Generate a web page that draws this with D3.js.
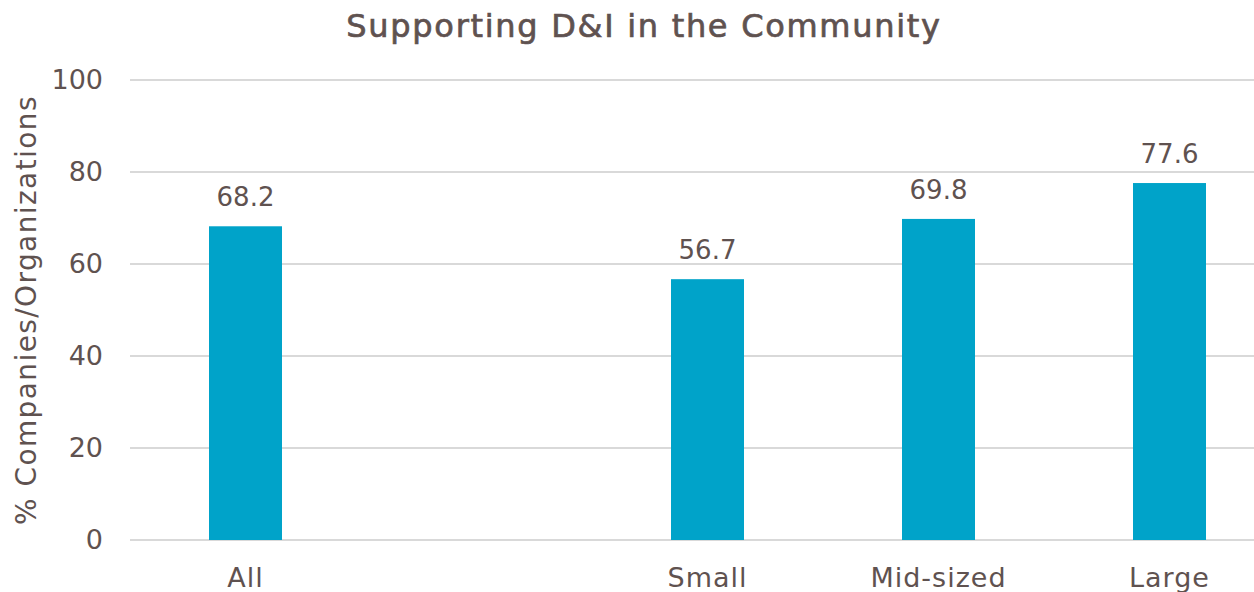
<!DOCTYPE html>
<html>
<head>
<meta charset="utf-8">
<script src="https://cdn.jsdelivr.net/npm/d3@7"></script>
<style>
  body { margin: 0; background: #fff; }
  svg { display: block; font-family: "DejaVu Sans", sans-serif; }
</style>
</head>
<body>
<div id="chart"></div>
<script>
// chart data
var categories = ["All", "", "Small", "Mid-sized", "Large"];
var values = [68.2, null, 56.7, 69.8, 77.6];
var yTicks = [0, 20, 40, 60, 80, 100];
var chartTitle = "Supporting D&I in the Community";
var yTitle = "% Companies/Organizations";

function drawBarChart() {
    var W = 1254, H = 592;
    var textColour = "#5f5250";
    var barColour = "#00a3c9";

    var svg = d3.select("#chart")
      .append("svg")
        .attr("width", W)
        .attr("height", H);

    // x band scale, the last slot runs past the right edge like the original
    var x = d3.scaleBand()
      .domain(d3.range(categories.length))
      .range([130, 1285])
      .paddingInner(0.684)
      .paddingOuter(0.342);

    var y = d3.scaleLinear()
      .domain([0, 100])
      .range([540, 80]);

    // gridlines
    svg.append("g")
      .selectAll("line")
      .data(yTicks)
      .enter()
      .append("line")
        .attr("x1", 130)
        .attr("x2", W)
        .attr("y1", function (d) { return y(d); })
        .attr("y2", function (d) { return y(d); })
        .attr("stroke", "#d9d9d9")
        .attr("stroke-width", 2);

    // y axis labels
    var yAxis = svg.append("g")
      .attr("transform", "translate(110,0)")
      .call(d3.axisLeft(y).tickValues(yTicks).tickSize(0).tickPadding(7));
    yAxis.select(".domain").remove();
    yAxis.selectAll("text")
      .attr("fill", textColour)
      .style("font-size", "27px")
      .style("font-family", "'DejaVu Sans', sans-serif");

    // x axis labels
    var xAxis = svg.append("g")
      .attr("transform", "translate(0,540)")
      .call(d3.axisBottom(x).tickSize(0).tickPadding(28)
        .tickFormat(function (i) { return categories[i]; }));
    xAxis.select(".domain").remove();
    xAxis.selectAll("text")
      .attr("fill", textColour)
      .style("font-size", "27px")
      .style("letter-spacing", "1px")
      .style("font-family", "'DejaVu Sans', sans-serif");

    var data = [];
    for (var i = 0; i < categories.length; i++) {
        if (values[i] !== null) data.push({i: i, v: values[i]});
    }

    // bars
    svg.append("g")
      .selectAll("rect")
      .data(data)
      .enter()
      .append("rect")
        .attr("x", function (d) { return x(d.i); })
        .attr("y", function (d) { return y(d.v); })
        .attr("width", x.bandwidth())
        .attr("height", function (d) { return y(0) - y(d.v); })
        .attr("fill", barColour);

    // value labels
    svg.append("g")
      .selectAll("text")
      .data(data)
      .enter()
      .append("text")
        .attr("x", function (d) { return x(d.i) + x.bandwidth() / 2; })
        .attr("y", function (d) { return y(d.v) - 20; })
        .attr("text-anchor", "middle")
        .attr("fill", textColour)
        .style("font-size", "26px")
        .text(function (d) { return d.v.toFixed(1); });

    // title
    svg.append("text")
      .attr("x", 644)
      .attr("y", 37)
      .attr("text-anchor", "middle")
      .attr("fill", textColour)
      .attr("stroke", textColour)
      .attr("stroke-width", 0.7)
      .style("font-size", "32px")
      .style("letter-spacing", "1.7px")
      .text(chartTitle);

    // y axis title
    svg.append("text")
      .attr("transform", "translate(36,310) rotate(-90)")
      .attr("text-anchor", "middle")
      .attr("fill", textColour)
      .style("font-size", "28px")
      .style("letter-spacing", "1.4px")
      .text(yTitle);
}

drawBarChart();
</script>
</body>
</html>
